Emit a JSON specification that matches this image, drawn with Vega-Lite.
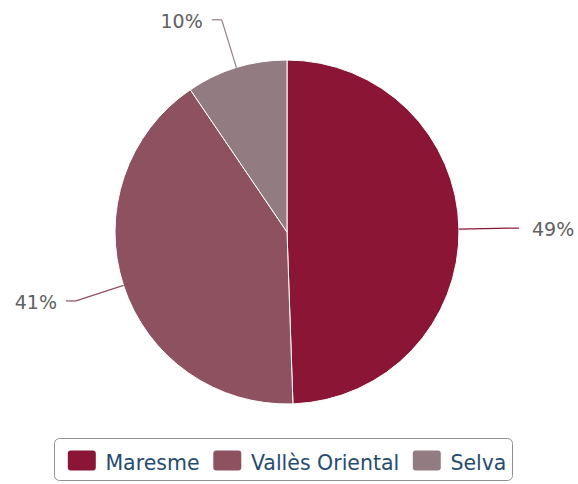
{
  "$schema": "https://vega.github.io/schema/vega-lite/v6.json",
  "width": 574,
  "height": 464,
  "padding": {"left": 0, "top": 0, "right": 4, "bottom": 20},
  "autosize": {"type": "none"},
  "background": "white",
  "data": {
    "values": [
      {"name": "Maresme", "value": 49.45},
      {"name": "Vallès Oriental", "value": 41.05},
      {"name": "Selva", "value": 9.5}
    ]
  },
  "transform": [
    {"calculate": "indexof(['Maresme','Vallès Oriental','Selva'], datum.name)", "as": "idx"},
    {"joinaggregate": [{"op": "sum", "field": "value", "as": "total"}]},
    {"window": [{"op": "sum", "field": "value", "as": "cum"}], "sort": [{"field": "idx"}], "frame": [null, 0]},
    {"calculate": "(datum.cum - datum.value / 2) / datum.total * 2 * PI", "as": "mid"},
    {"calculate": "datum.value / datum.total", "as": "pct"},
    {"calculate": "sin(datum.mid) > 0 ? 1 : -1", "as": "side"},
    {"calculate": "172 * sin(datum.mid)", "as": "ex"},
    {"calculate": "172 * cos(datum.mid)", "as": "ey"},
    {"calculate": "222 * sin(datum.mid)", "as": "bx"},
    {"calculate": "222 * cos(datum.mid)", "as": "by"},
    {"calculate": "datum.bx + 10 * datum.side", "as": "cx"},
    {"calculate": "datum.cx + (datum.side > 0 ? 13 : 9) * datum.side", "as": "tx"}
  ],
  "layer": [
    {
      "mark": {"type": "arc", "outerRadius": 172, "stroke": "white", "strokeWidth": 1},
      "encoding": {
        "theta": {"field": "value", "type": "quantitative", "stack": true},
        "order": {"field": "idx", "type": "quantitative"},
        "color": {
          "field": "name",
          "type": "nominal",
          "scale": {
            "domain": ["Maresme", "Vallès Oriental", "Selva"],
            "range": ["#8a1535", "#8e5160", "#927c81"]
          },
          "legend": {
            "title": null,
            "orient": "none",
            "direction": "horizontal",
            "legendX": 54,
            "legendY": 438
          }
        }
      }
    },
    {
      "mark": {"type": "rule", "strokeWidth": 1.2},
      "encoding": {
        "x": {"field": "ex", "type": "quantitative", "scale": {"domain": [-287, 287], "nice": false, "zero": false}, "axis": null},
        "y": {"field": "ey", "type": "quantitative", "scale": {"domain": [-232, 232], "nice": false, "zero": false}, "axis": null},
        "x2": {"field": "bx"},
        "y2": {"field": "by"},
        "stroke": {
          "field": "name",
          "type": "nominal",
          "scale": {
            "domain": ["Maresme", "Vallès Oriental", "Selva"],
            "range": ["#8a1535", "#8e5160", "#927c81"]
          },
          "legend": null
        }
      }
    },
    {
      "mark": {"type": "rule", "strokeWidth": 1.2},
      "encoding": {
        "x": {"field": "bx", "type": "quantitative"},
        "y": {"field": "by", "type": "quantitative"},
        "x2": {"field": "cx"},
        "y2": {"field": "by"},
        "stroke": {"field": "name", "type": "nominal", "legend": null}
      }
    },
    {
      "mark": {
        "type": "text",
        "font": "DejaVu Sans",
        "fontSize": 19,
        "color": "#606060",
        "baseline": "middle",
        "dy": 2,
        "align": {"expr": "datum.side > 0 ? 'left' : 'right'"}
      },
      "encoding": {
        "x": {"field": "tx", "type": "quantitative"},
        "y": {"field": "by", "type": "quantitative"},
        "text": {"field": "pct", "type": "quantitative", "format": ".0%"}
      }
    }
  ],
  "config": {
    "view": {"stroke": null},
    "legend": {
      "symbolType": "M-0.531,-0.662 H0.531 Q0.676,-0.662 0.676,-0.517 V0.159 Q0.676,0.304 0.531,0.304 H-0.531 Q-0.676,0.304 -0.676,0.159 V-0.517 Q-0.676,-0.662 -0.531,-0.662 Z",
      "symbolSize": 1714,
      "symbolOffset": 1.8,
      "symbolStrokeWidth": 0,
      "symbolOpacity": 1,
      "labelFont": "DejaVu Sans",
      "labelFontSize": 20.5,
      "labelColor": "#274b6d",
      "labelOffset": 2.6,
      "columnPadding": 4.5,
      "strokeColor": "#909090",
      "strokeWidth": 1,
      "cornerRadius": 5,
      "padding": 5
    }
  }
}
